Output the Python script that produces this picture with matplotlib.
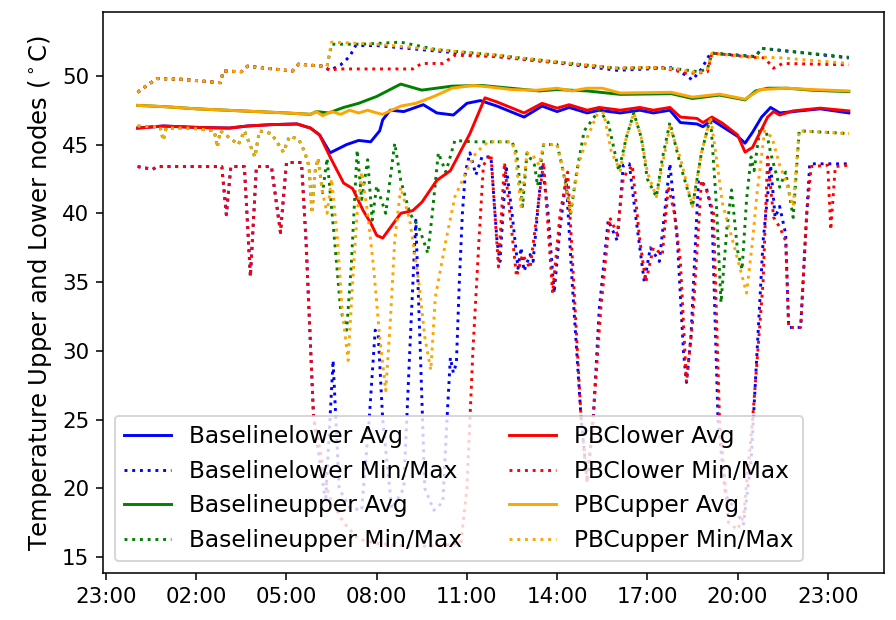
import numpy as np
import pandas as pd
import matplotlib
matplotlib.use("Agg")
import matplotlib.pyplot as plt
import matplotlib.dates as mdates

# hours after midnight, values in degC
bl_avg_h = [0.05, 0.9, 2.0, 3.1, 3.7, 4.5, 5.35, 5.8, 6.1, 6.45, 7.0, 7.4, 7.8, 8.1, 8.2, 8.45, 8.9,
            9.55, 10.0, 10.55, 11.0, 11.45, 12.0, 12.9, 13.5, 14.0, 14.4, 15.0, 15.4, 16.1, 16.75,
            17.2, 17.75, 18.1, 18.65, 18.85, 19.15, 19.5, 20.0, 20.25, 20.5, 20.8, 21.1, 21.4,
            21.85, 22.75, 23.7]
bl_avg = [46.2, 46.35, 46.25, 46.2, 46.35, 46.45, 46.5, 46.2, 45.7, 44.4, 45.0, 45.3, 45.2, 46.0,
          46.8, 47.5, 47.4, 47.9, 47.3, 47.15, 48.0, 48.2, 47.8, 47.0, 47.8, 47.4, 47.7, 47.3,
          47.5, 47.3, 47.5, 47.3, 47.5, 46.6, 46.5, 46.3, 46.8, 46.3, 45.6, 45.1, 45.9, 47.0,
          47.7, 47.3, 47.4, 47.6, 47.3]

bl_min_h = [0.05, 0.55, 0.7, 2.85, 3.0, 3.15, 3.6, 3.8, 4.0, 4.5, 4.8, 5.0, 5.5, 5.65, 5.9, 6.3,
            6.55, 6.75, 7.1, 7.5, 7.75, 7.95, 8.05, 8.2, 8.5, 8.9, 9.1, 9.3, 9.45, 9.6, 9.9, 10.2,
            10.35, 10.45, 10.55, 10.65, 10.75, 10.85, 10.95, 11.1, 11.3, 11.5, 11.8, 12.0, 12.1,
            12.3, 12.5, 12.7, 12.8, 12.9, 13.1, 13.2, 13.5, 13.7, 13.9, 14.1, 14.3, 14.5, 14.8,
            15.0, 15.2, 15.4, 15.7, 16.0, 16.2, 16.4, 16.6, 16.9, 17.1, 17.4, 17.75, 18.0, 18.2,
            18.3, 18.45, 18.7, 18.95, 19.15, 19.35, 19.6, 19.9, 20.2, 20.45, 20.65, 20.85, 21.1,
            21.25, 21.4, 21.6, 21.7, 22.1, 22.25, 22.4, 23.7]
bl_min = [43.4, 43.2, 43.4, 43.4, 39.9, 43.4, 43.4, 35.4, 43.4, 43.4, 38.6, 43.7, 43.7, 38.0, 25.2,
          19.0, 29.3, 20.0, 18.6, 18.4, 25.0, 31.5, 31.2, 25.0, 18.5, 20.0, 30.0, 39.5, 30.0, 20.0,
          18.4, 19.0, 25.5, 29.5, 28.4, 29.1, 35.1, 40.0, 43.0, 44.4, 42.8, 44.1, 44.1, 38.0,
          36.5, 43.5, 40.0, 36.0, 37.5, 35.8, 37.0, 36.5, 43.6, 40.0, 34.2, 39.0, 42.5, 35.0,
          25.0, 20.5, 25.0, 33.0, 39.5, 38.0, 43.5, 43.6, 40.0, 35.0, 37.5, 36.5, 43.6, 38.0,
          30.0, 27.7, 31.0, 42.4, 42.0, 40.0, 25.0, 19.5, 18.5, 17.4, 22.0, 30.0, 38.0, 43.5,
          39.7, 40.5, 38.5, 31.7, 31.7, 38.0, 43.6, 43.6]

bl_max_h = [0.05, 0.35, 0.7, 1.5, 2.8, 2.9, 3.5, 3.7, 5.2, 5.4, 6.2, 6.45, 6.8, 7.1, 7.3, 8.0,
            10.0, 12.0, 14.0, 16.0, 17.0, 17.9, 18.5, 18.8, 19.1, 20.6, 20.8, 23.7]
bl_max = [48.8, 49.3, 49.8, 49.75, 49.5, 50.35, 50.3, 50.7, 50.35, 50.85, 50.7, 50.4, 50.8, 51.4,
          52.2, 52.2, 51.8, 51.4, 50.95, 50.4, 50.5, 50.6, 49.7, 50.5, 51.65, 51.4, 52.0, 51.3]

bu_avg_h = [0.05, 1.0, 2.0, 3.0, 4.0, 5.0, 5.8, 6.0, 6.4, 6.9, 7.4, 8.0, 8.8, 9.5, 10.5, 11.5,
            13.4, 14.0, 15.0, 16.1, 17.8, 18.5, 19.4, 20.25, 20.6, 21.0, 21.65, 22.5, 23.7]
bu_avg = [47.85, 47.75, 47.6, 47.5, 47.4, 47.3, 47.2, 47.4, 47.3, 47.7, 48.0, 48.5, 49.4, 48.96,
          49.25, 49.3, 48.9, 49.0, 48.9, 48.65, 48.7, 48.35, 48.6, 48.25, 48.9, 49.1, 49.1,
          48.95, 48.85]

bu_min_h = [0.05, 0.35, 0.8, 0.9, 1.0, 1.8, 2.6, 2.7, 2.8, 3.1, 3.4, 3.6, 3.95, 4.1, 4.5, 4.9,
            5.1, 5.4, 5.6, 5.75, 5.85, 5.95, 6.05, 6.2, 6.35, 6.6, 6.8, 7.0, 7.15, 7.35, 7.5,
            7.7, 7.85, 8.0, 8.3, 8.6, 8.8, 9.1, 9.4, 9.7, 9.85, 10.05, 10.3, 10.6, 11.2, 12.5,
            12.65, 12.85, 13.0, 13.25, 13.35, 13.55, 14.0, 14.2, 14.45, 14.65, 14.9, 15.4, 15.7,
            16.05, 16.3, 16.55, 16.8, 17.0, 17.3, 17.5, 17.75, 18.1, 18.5, 18.8, 19.1, 19.3,
            19.45, 19.65, 19.8, 20.0, 20.15, 20.3, 20.45, 20.55, 20.75, 20.95, 21.1, 21.4, 21.6,
            21.85, 22.05, 23.7]
bu_min = [46.35, 46.3, 46.3, 45.3, 46.2, 46.2, 46.0, 44.8, 46.0, 45.5, 45.0, 46.0, 44.1, 46.0,
          45.8, 44.45, 45.6, 45.4, 44.5, 43.4, 40.0, 43.0, 44.0, 41.5, 44.0, 38.0, 33.0, 31.5,
          36.0, 44.6, 41.0, 43.9, 39.5, 42.0, 40.0, 45.1, 42.4, 40.0, 39.0, 37.1, 40.0, 44.4,
          43.0, 45.3, 45.2, 45.2, 44.4, 40.5, 44.4, 43.5, 42.0, 45.0, 45.0, 43.1, 40.0, 43.0,
          46.0, 47.5, 46.6, 43.1, 45.5, 47.3, 45.5, 42.5, 41.2, 44.0, 46.6, 43.5, 40.5, 44.4,
          47.0, 40.5, 33.5, 39.0, 41.7, 37.3, 35.9, 41.0, 44.1, 43.1, 46.3, 46.0, 44.4, 41.9,
          43.0, 39.7, 46.0, 45.8]

bu_max_h = [0.05, 0.35, 0.7, 1.5, 2.8, 2.9, 3.5, 3.7, 5.2, 5.4, 6.2, 6.35, 6.5, 7.5, 8.8, 10.0,
            12.0, 14.0, 16.0, 17.0, 18.0, 18.7, 19.0, 19.15, 20.6, 20.8, 23.7]
bu_max = [48.8, 49.3, 49.8, 49.75, 49.5, 50.35, 50.3, 50.7, 50.35, 50.85, 50.7, 50.7, 52.3, 52.3,
          52.45, 51.9, 51.5, 51.0, 50.55, 50.6, 50.5, 50.3, 50.5, 51.65, 51.4, 52.0, 51.35]

pl_avg_h = [0.05, 0.9, 2.0, 3.1, 3.7, 4.5, 5.35, 5.8, 6.1, 6.45, 6.9, 7.2, 7.55, 7.8, 8.0, 8.2,
            8.8, 9.2, 9.5, 10.0, 10.45, 11.1, 11.6, 12.0, 12.9, 13.5, 14.0, 14.4, 15.0, 15.4,
            16.1, 16.75, 17.2, 17.75, 18.1, 18.65, 18.85, 19.15, 19.5, 20.0, 20.25, 20.5, 21.0,
            21.2, 21.4, 21.85, 22.75, 23.7]
pl_avg = [46.2, 46.35, 46.25, 46.2, 46.35, 46.45, 46.5, 46.2, 45.7, 44.1, 42.2, 41.8, 40.2, 39.3,
          38.4, 38.2, 40.0, 40.2, 40.8, 42.4, 43.1, 45.8, 48.4, 48.1, 47.3, 48.0, 47.65, 47.9,
          47.5, 47.7, 47.5, 47.7, 47.5, 47.7, 47.0, 46.9, 46.6, 47.0, 46.55, 45.7, 44.45, 44.8,
          47.0, 47.4, 47.15, 47.45, 47.65, 47.45]

pl_min_h = [0.05, 0.55, 0.7, 2.85, 3.0, 3.15, 3.6, 3.8, 4.0, 4.5, 4.8, 5.0, 5.5, 5.65, 5.9, 6.4,
            6.9, 7.4, 8.0, 9.0, 10.0, 10.8, 11.0, 11.2, 11.4, 11.55, 11.8, 12.05, 12.25, 12.65,
            12.85, 13.1, 13.55, 13.85, 14.1, 14.35, 14.55, 14.8, 15.0, 15.2, 15.45, 15.75, 16.0,
            16.2, 16.5, 16.75, 16.95, 17.2, 17.5, 17.7, 17.9, 18.1, 18.3, 18.5, 18.8, 19.0, 19.2,
            19.4, 19.7, 20.0, 20.2, 20.5, 20.85, 21.0, 21.2, 21.4, 21.6, 21.7, 22.1, 22.3, 22.45,
            23.0, 23.1, 23.25, 23.7]
pl_min = [43.4, 43.2, 43.4, 43.4, 39.9, 43.4, 43.4, 35.4, 43.4, 43.4, 38.6, 43.7, 43.7, 38.0,
          25.2, 19.5, 17.5, 16.3, 16.0, 15.8, 15.8, 16.0, 20.0, 30.0, 38.0, 43.5, 44.3, 36.1,
          43.7, 35.4, 37.0, 36.0, 43.7, 34.2, 40.0, 43.0, 35.0, 25.0, 20.4, 25.2, 33.0, 39.7,
          38.5, 42.6, 43.5, 38.0, 35.0, 37.5, 37.0, 42.0, 40.0, 36.5, 27.7, 32.0, 42.4, 41.5,
          40.0, 25.0, 17.5, 17.0, 18.0, 25.0, 35.0, 44.1, 39.7, 39.0, 38.0, 31.7, 31.7, 40.0,
          43.4, 43.5, 38.8, 43.4, 43.5]

pl_max_h = [0.05, 0.35, 0.7, 1.5, 2.8, 2.9, 3.5, 3.7, 5.2, 5.4, 6.2, 6.45, 6.7, 9.2, 9.5, 10.2,
            10.6, 12.0, 14.0, 16.0, 17.5, 18.3, 18.7, 19.0, 19.15, 20.5, 20.9, 21.2, 21.5, 23.7]
pl_max = [48.8, 49.3, 49.8, 49.75, 49.5, 50.35, 50.3, 50.7, 50.35, 50.85, 50.7, 50.4, 50.5, 50.5,
          50.9, 50.9, 51.5, 51.4, 50.95, 50.55, 50.6, 50.2, 50.2, 50.3, 51.65, 51.35, 51.3,
          50.55, 50.9, 50.8]

pu_avg_h = [0.05, 1.0, 2.0, 3.0, 4.0, 5.0, 5.8, 6.0, 6.2, 6.5, 6.8, 7.1, 7.4, 7.7, 8.0, 8.2,
            8.8, 9.3, 9.9, 10.5, 11.2, 11.7, 12.5, 13.3, 14.0, 14.5, 15.0, 15.5, 16.1, 17.8,
            18.5, 19.4, 20.25, 20.75, 21.65, 22.5, 23.7]
pu_avg = [47.85, 47.75, 47.6, 47.5, 47.4, 47.3, 47.2, 47.4, 47.1, 47.4, 47.2, 47.5, 47.3, 47.5,
          47.3, 47.2, 47.8, 48.0, 48.5, 49.1, 49.3, 49.2, 49.0, 48.95, 49.1, 48.9, 49.1, 49.1,
          48.75, 48.8, 48.45, 48.67, 48.3, 49.0, 49.1, 49.0, 48.9]

pu_min_h = [0.05, 0.35, 0.8, 0.9, 1.0, 1.8, 2.6, 2.7, 2.8, 3.1, 3.4, 3.6, 3.95, 4.1, 4.5, 4.9,
            5.1, 5.4, 5.6, 5.75, 5.85, 5.95, 6.05, 6.2, 6.35, 6.5, 6.7, 6.85, 7.05, 7.2, 7.35,
            7.5, 7.7, 7.9, 8.1, 8.3, 8.45, 8.6, 8.8, 9.1, 9.4, 9.6, 9.8, 9.95, 10.3, 10.6, 11.1,
            11.3, 11.7, 12.5, 12.6, 12.8, 13.0, 13.2, 13.4, 13.55, 14.0, 14.2, 14.45, 14.7, 15.0,
            15.35, 15.55, 15.8, 16.1, 16.3, 16.55, 16.8, 17.0, 17.3, 17.5, 17.75, 18.1, 18.5,
            18.8, 19.1, 19.25, 19.5, 19.9, 20.3, 20.5, 20.65, 20.9, 21.15, 21.4, 21.6, 21.85,
            22.05, 23.7]
pu_min = [46.35, 46.3, 46.3, 45.3, 46.2, 46.2, 46.0, 44.8, 46.0, 45.5, 45.0, 46.0, 44.1, 46.0,
          45.8, 44.45, 45.6, 45.4, 44.5, 43.4, 40.0, 43.0, 44.0, 41.5, 40.0, 42.5, 38.0, 33.0,
          29.3, 35.0, 40.0, 43.0, 40.0, 36.0, 31.0, 27.1, 32.0, 38.0, 41.9, 39.5, 35.0, 31.0,
          28.6, 33.9, 38.0, 41.2, 43.6, 44.4, 45.2, 45.2, 44.4, 40.5, 44.4, 44.2, 43.5, 45.0,
          45.0, 43.1, 40.0, 43.5, 45.5, 47.3, 47.3, 44.5, 43.1, 45.5, 47.3, 45.5, 43.0, 41.2,
          43.5, 46.3, 44.0, 40.5, 44.4, 47.0, 44.8, 40.7, 37.5, 34.2, 38.0, 41.5, 46.0, 45.5,
          43.5, 42.4, 40.5, 46.0, 45.8]

pu_max_h = [0.05, 0.35, 0.7, 1.5, 2.8, 2.9, 3.5, 3.7, 5.2, 5.4, 6.2, 6.35, 6.5, 8.0, 10.0, 12.0,
            14.0, 16.0, 17.0, 18.0, 18.7, 19.0, 19.15, 20.5, 20.9, 21.5, 23.7]
pu_max = [48.8, 49.3, 49.8, 49.75, 49.5, 50.35, 50.3, 50.7, 50.35, 50.85, 50.7, 50.7, 52.45,
          52.3, 51.9, 51.5, 51.0, 50.55, 50.6, 50.5, 50.2, 50.5, 51.65, 51.35, 51.35, 51.3, 50.9]

day = pd.Timestamp("2019-07-01")


def to_time(hours):
    return (day + pd.to_timedelta(hours, unit="h")).to_numpy()


groups = [
    ("Baselinelower", "blue", bl_avg_h, bl_avg, bl_min_h, bl_min, bl_max_h, bl_max),
    ("Baselineupper", "green", bu_avg_h, bu_avg, bu_min_h, bu_min, bu_max_h, bu_max),
    ("PBClower", "red", pl_avg_h, pl_avg, pl_min_h, pl_min, pl_max_h, pl_max),
    ("PBCupper", "orange", pu_avg_h, pu_avg, pu_min_h, pu_min, pu_max_h, pu_max),
]

fig = plt.figure(figsize=(6.4, 620 / 140), dpi=140)
ax = fig.add_axes([0.115, 0.0758, 0.8716, 0.9048])

for name, color, ah, av, mnh, mnv, mxh, mxv in groups:
    ax.plot(to_time(ah), av, color=color, label=name + " Avg")
    ax.plot(to_time(mxh), mxv, color=color, linestyle=":", label=name + " Min/Max")
    ax.plot(to_time(mnh), mnv, color=color, linestyle=":")

ax.set_xlim(day + pd.Timedelta(hours=-1.10), day + pd.Timedelta(hours=24.87))
ax.set_ylim(13.84, 54.64)
ax.xaxis.set_major_locator(mdates.HourLocator(byhour=[2, 5, 8, 11, 14, 17, 20, 23]))
ax.xaxis.set_major_formatter(mdates.DateFormatter("%H:%M"))

# tick labels in the original are narrow and tall
ax.tick_params(axis="both", labelsize=11, labelfontfamily="Liberation Sans Narrow")

ax.set_ylabel(r"Temperature Upper and Lower nodes ($^\circ$C)", fontsize=12.5)

ax.legend(loc="lower left", ncol=2, fontsize=12)

fig.savefig("out.png", dpi=140)
